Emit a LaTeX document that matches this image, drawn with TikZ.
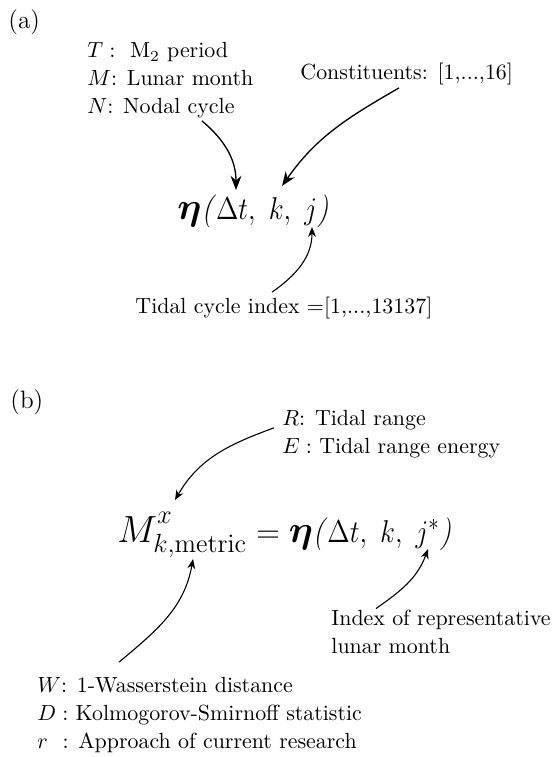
\documentclass[tikz,border=0pt]{standalone}
\usepackage{amsmath}
\usepackage{amssymb}
\usepackage{tikz}
\usetikzlibrary{arrows.meta, positioning, calc}

\newcommand{\etabig}{\scalebox{1.2}{$\boldsymbol{\eta}$}}
\newcommand{\tidefn}[1]{\etabig\scalebox{0.87}[1]{\textit{(}$\Delta t,\ k,\ #1$\textit{)}}}

\begin{document}
\begin{tikzpicture}[
		x=0.4566pt, y=0.4566pt,
		lbl/.style={anchor=base west, inner sep=0pt, align=left, font=\fontsize{10}{12.6}\selectfont},
		tag/.style={anchor=base west, inner sep=0pt, font=\fontsize{11.5}{14}\selectfont},
		eq/.style={anchor=base west, inner sep=0pt, font=\fontsize{15}{18}\selectfont},
		arr/.style={-{Stealth[length=4.5pt, width=3.6pt]}, line width=0.5pt},
		bigarr/.style={-{Stealth[length=6.5pt, width=5pt]}, line width=0.6pt}
		]
		\useasboundingbox (0,0) rectangle (555,-757);
		
		% (a) -- multi-line labels sit on their last baseline
		\node[tag] (tagA) at (8,-28) {(a)};
		\node[lbl] (periods) at (87,-113) {$T:$\ \ M$_2$ period\\$M$: Lunar month\\$N$: Nodal cycle};
		\node[lbl] (consts) at (300,-79) {Constituents: [1,...,16]};
		\node[eq] (etaA) at (177,-219) {$\tidefn{j}$};
		\node[lbl] (cycidx) at (135,-313) {Tidal cycle index $=$[1,...,13137]};
		
		\coordinate (tipDt) at (236,-190);
		\coordinate (tipK) at (282,-186);
		\coordinate (tipJ) at (312,-227);
		
		\draw[bigarr] ($(periods.south west)+(115,-3)$) to[out=-40, in=90] (tipDt);
		\draw[bigarr] ($(consts.south west)+(99,-3)$) to[out=210, in=55] (tipK);
		\draw[arr] ($(cycidx.north west)+(137,4)$) to[out=35, in=-90] (tipJ);
		
		% (b)
		\node[tag] (tagB) at (10,-408) {(b)};
		\node[lbl] (ranges) at (282,-453) {$R$: Tidal range\\$E:$ Tidal range energy};
		\node[eq] (metricEq) at (117,-542) {{\fontsize{18}{20}\selectfont$M^{\raisebox{2pt}{$\scriptstyle x$}}_{k,\mathrm{metric}}$}${}={}\tidefn{j^{*}}$};
		\node[lbl] (index) at (331,-653) {Index of representative\\lunar month};
		\node[lbl] (metrics) at (37,-748) {$W$: 1-Wasserstein distance\\$D:$ Kolmogorov-Smirnoff statistic\\$r$\ \ : Approach of current research};
		
		\coordinate (tipSup) at (175,-500);
		\coordinate (tipSub) at (193,-559);
		\coordinate (tipJs) at (428,-549);
		
		\draw[arr] ($(ranges.west)+(-8,6)$) to[out=200, in=60] (tipSup);
		\draw[arr] ($(metrics.north west)+(82,15)$) to[out=40, in=-100] (tipSub);
		\draw[arr] ($(index.north west)+(45,1)$) to[out=35, in=-110] (tipJs);
	\end{tikzpicture}
\end{document}
